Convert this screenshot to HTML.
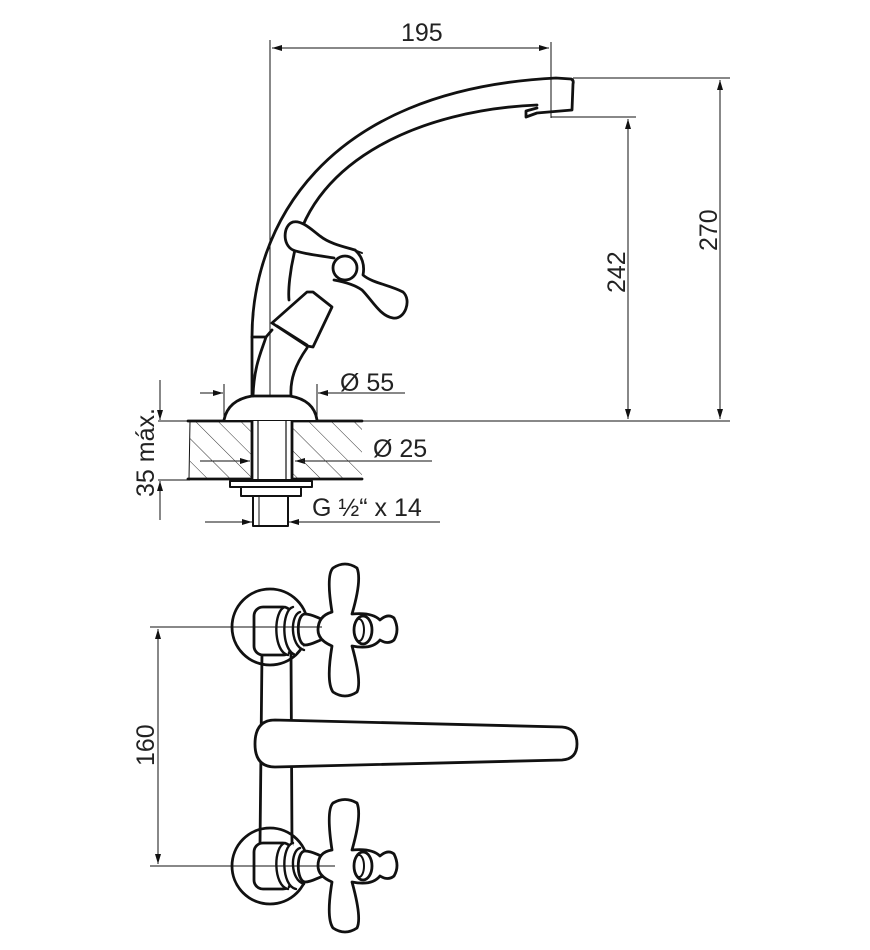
<!DOCTYPE html>
<html><head><meta charset="utf-8"><style>
html,body{margin:0;padding:0;background:#fff;}
svg{display:block}
text{font-family:"Liberation Sans",Arial,sans-serif;fill:#222;}
</style></head><body>
<svg width="870" height="950" viewBox="0 0 870 950" xmlns="http://www.w3.org/2000/svg">
<defs>
<marker id="a" viewBox="0 0 10 6" refX="10" refY="3" markerWidth="12" markerHeight="6" markerUnits="userSpaceOnUse" orient="auto"><path d="M0,0 L10,3 L0,6 z" fill="#111"/></marker>
<pattern id="h" patternUnits="userSpaceOnUse" width="16" height="16" patternTransform="rotate(-45)"><line x1="0" y1="0" x2="0" y2="16" stroke="#333" stroke-width="1"/></pattern>
</defs>
<g fill="none" stroke="#111" stroke-width="1">
<line x1="270" y1="40" x2="270" y2="420"/>
<line x1="551" y1="42" x2="551" y2="118"/>
<line x1="272" y1="48" x2="549" y2="48" marker-end="url(#a)"/>
<line x1="549" y1="48" x2="272" y2="48" marker-end="url(#a)"/>
<line x1="573" y1="78" x2="730" y2="78"/>
<line x1="551" y1="117" x2="636" y2="117"/>
<line x1="190" y1="421" x2="730" y2="421"/>
<line x1="628" y1="119" x2="628" y2="419" marker-end="url(#a)"/>
<line x1="628" y1="419" x2="628" y2="119" marker-end="url(#a)"/>
<line x1="720" y1="80" x2="720" y2="419" marker-end="url(#a)"/>
<line x1="720" y1="419" x2="720" y2="80" marker-end="url(#a)"/>
<line x1="158" y1="421" x2="190" y2="421"/>
<line x1="158" y1="480" x2="190" y2="480"/>
<line x1="160" y1="380" x2="160" y2="420" marker-end="url(#a)"/>
<line x1="160" y1="520" x2="160" y2="481" marker-end="url(#a)"/>
<line x1="224" y1="384" x2="224" y2="418"/>
<line x1="317" y1="384" x2="317" y2="418"/>
<line x1="200" y1="393" x2="223" y2="393" marker-end="url(#a)"/>
<line x1="405" y1="393" x2="318" y2="393" marker-end="url(#a)"/>
<line x1="200" y1="461" x2="250" y2="461" marker-end="url(#a)"/>
<line x1="432" y1="461" x2="295" y2="461" marker-end="url(#a)"/>
<line x1="205" y1="522" x2="252" y2="522" marker-end="url(#a)"/>
<line x1="440" y1="522" x2="289" y2="522" marker-end="url(#a)"/>
<line x1="158" y1="629" x2="158" y2="864" marker-end="url(#a)"/>
<line x1="158" y1="864" x2="158" y2="629" marker-end="url(#a)"/>
</g>
<rect x="190" y="421" width="172" height="58" fill="url(#h)"/>
<g fill="none" stroke="#111" stroke-width="2.8" stroke-linejoin="round" stroke-linecap="round">
<line x1="188" y1="421" x2="362" y2="421"/>
<line x1="188" y1="479" x2="362" y2="479"/>
<line x1="190" y1="421" x2="189" y2="479" stroke-width="1"/>
<rect x="251" y="421" width="42" height="58" fill="#fff" stroke="none"/>
<line x1="252" y1="421" x2="252" y2="479"/>
<line x1="258" y1="421" x2="258" y2="479" stroke-width="1.2"/>
<line x1="286" y1="421" x2="286" y2="479" stroke-width="1.2"/>
<line x1="292" y1="421" x2="292" y2="479"/>
<rect x="230" y="481" width="82" height="6" stroke-width="2"/>
<rect x="241" y="487" width="60" height="9" stroke-width="2"/>
<rect x="253" y="496" width="35" height="30" stroke-width="2"/>
<line x1="259" y1="496" x2="259" y2="526" stroke-width="1"/>
<path d="M224,420 Q228,400 252,396 L290,396 Q314,400 317,420" fill="#fff"/>
<!-- spout -->
<path d="M252,396 L252,337 C252,230 320,90 556,78 L571,79 Q574,80 573,84 L572,110 L537,113 L526,117 L526,111 L537,108"/>
<path d="M537,105 C420,110 315,160 295,250 C290,270 288,290 289,300"/>
<path d="M252,337 L266,337 L272,330"/>
<path d="M266,337 C262,350 254,365 253,396"/>
<path d="M307,348 C295,365 290,380 291,396"/>
<!-- cone -->
<path d="M272,323 L307,292 L313,292 L332,307 L313,347 L307,346 Z" fill="#fff"/>
<path d="M277,326 L307,345"/>
<!-- handle cross -->
<path d="M334,258 C315,255 300,253 293,250 C282,245 283,225 293,222 C302,220 312,230 320,236 C330,244 345,247 355,250 C362,256 365,265 363,275 C372,283 390,285 403,292 C412,300 405,320 393,318 C380,316 372,300 362,290 C355,285 345,282 334,280" fill="#fff"/>
<circle cx="345" cy="268" r="12" fill="#fff"/>
<path d="M349,248 L362,253" stroke-width="2"/>
<!-- bottom view -->
<circle cx="270" cy="627" r="38" fill="#fff"/>
<circle cx="270" cy="866" r="38" fill="#fff"/>
<path d="M262,652 L260,845" />
<path d="M291,652 L292,845"/>
<rect x="254" y="607" width="38" height="48" rx="9" fill="#fff"/>
<rect x="254" y="843" width="38" height="46" rx="9" fill="#fff"/>
<g stroke-width="2.4">
<path d="M285,607 C273,610 273,652 288,655" fill="#fff"/>
<path d="M293,607 C281,610 281,652 296,655" fill="#fff"/>
<path d="M300,612 C290,615 290,646 304,650" fill="#fff"/>
<path d="M285,843 C273,846 273,886 288,889" fill="#fff"/>
<path d="M293,843 C281,846 281,886 296,889" fill="#fff"/>
<path d="M300,848 C290,851 290,880 304,884" fill="#fff"/>
</g>
<path d="M305,614 C296,614 296,644 305,645 C315,645 322,636 330,640 C338,645 340,622 330,620 C322,622 315,614 305,614 Z" fill="#fff"/>
<path d="M332,612 Q326,575 333,568 Q345,560 357,568 Q362,580 352,614 Q372,612 380,620 Q388,613 394,618 Q400,630 394,640 Q388,645 380,640 Q372,650 352,646 Q362,682 357,692 Q345,700 333,692 Q326,682 332,646 Q318,640 318,630 Q318,616 332,612 Z" fill="#fff"/>
<ellipse cx="363" cy="630" rx="9" ry="14" fill="#fff"/>
<ellipse cx="359" cy="630" rx="5" ry="11" stroke-width="2"/>
<path d="M305,851 C296,851 296,881 305,882 C315,882 322,873 330,877 C338,882 340,859 330,857 C322,859 315,851 305,851 Z" fill="#fff"/>
<path d="M332,850 Q326,810 333,803 Q345,796 357,803 Q362,815 352,850 Q372,848 380,856 Q388,849 394,854 Q400,866 394,876 Q388,881 380,876 Q372,886 352,882 Q362,918 357,928 Q345,936 333,928 Q326,918 332,882 Q318,876 318,866 Q318,852 332,850 Z" fill="#fff"/>
<ellipse cx="363" cy="866" rx="9" ry="14" fill="#fff"/>
<ellipse cx="359" cy="866" rx="5" ry="11" stroke-width="2"/>
<path d="M275,720 L562,727 Q577,728 577,744 Q577,759 562,760 L275,767 Q255,767 255,744 Q255,720 275,720 Z" fill="#fff"/>
</g>
<g fill="none" stroke="#111" stroke-width="1">
<line x1="150" y1="627" x2="322" y2="627"/>
<line x1="150" y1="866" x2="335" y2="866"/>
</g>
<g font-size="25">
<text x="401" y="41">195</text>
<text x="340" y="391">Ø 55</text>
<text x="373" y="457">Ø 25</text>
<text x="312" y="516">G ½“ x 14</text>
<text transform="translate(625,293) rotate(-90)">242</text>
<text transform="translate(717,251) rotate(-90)">270</text>
<text transform="translate(154,497) rotate(-90)">35 máx.</text>
<text transform="translate(154,766) rotate(-90)">160</text>
</g>
</svg>
</body></html>
